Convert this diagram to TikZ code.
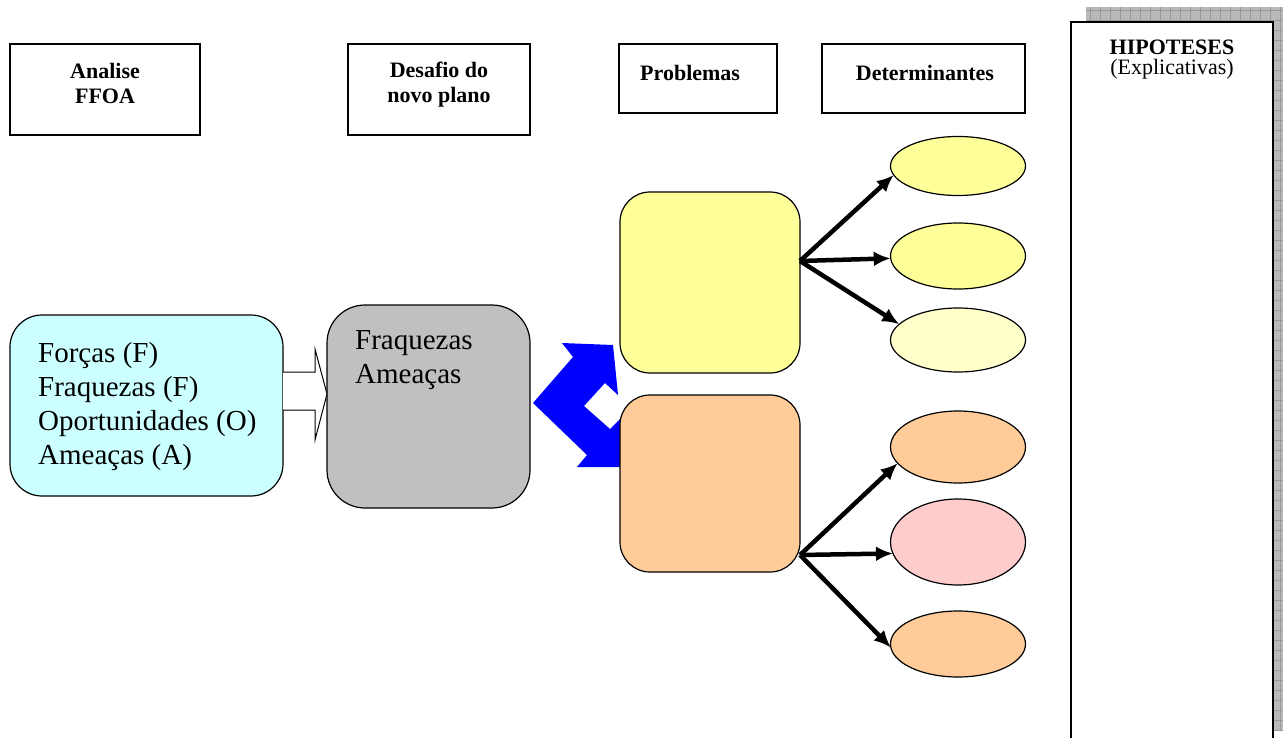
\documentclass[tikz,border=0pt]{standalone}
\usepackage{fontspec}
\setmainfont{Liberation Serif}
\usepackage{xcolor}
\usetikzlibrary{calc}
\usetikzlibrary{positioning}
\usetikzlibrary{shapes.geometric}
\usetikzlibrary{arrows,arrows.meta}
\definecolor{ffoacyan}{HTML}{CCFFFF}
\definecolor{desafiogray}{HTML}{C0C0C0}
\definecolor{probyellow}{HTML}{FFFF99}
\definecolor{probpeach}{HTML}{FFCC99}
\definecolor{detpale}{HTML}{FFFFCC}
\definecolor{detpink}{HTML}{FFCCCC}
\tikzset{%
    head box/.style={inner sep=0pt,outer sep=0pt,shape=rectangle,draw,line width=1.5pt,anchor=north west},
    head text/.style={align=center,inner sep=0pt,font=\fontsize{22}{25}\selectfont\bfseries},
    round body/.style={inner sep=0pt,outer sep=0pt,shape=rectangle,rounded corners=32pt,draw,line width=1.2pt,anchor=north west},
    big text/.style={align=left,inner sep=0pt,font=\fontsize{29}{34}\selectfont},
    det/.style={ellipse,draw,line width=1.2pt,minimum width=135pt,inner sep=0pt,outer sep=0pt},
    fork/.style={-{Latex[length=17pt,width=15pt]},line width=4.5pt},
}
\begin{document}
\begin{tikzpicture}[x=1pt,y=1pt]
        \useasboundingbox (0,0) rectangle (1283,-738);
        % column headings
        \node [head box,minimum width=190,minimum height=91] (ffoahead) at (10,-44) {};
        \node [head text] (ffoatxt) at (105,-83) {Analise\\FFOA};
        \node [head box,minimum width=182,minimum height=91] (desafiohead) at (348,-44) {};
        \node [head text] (desafiotxt) at (439,-85) {Desafio do\\novo plano};
        \node [head box,minimum width=158,minimum height=69] (probhead) at (619,-44) {};
        \node [head text,anchor=west] (probtxt) at (640,-73) {Problemas};
        \node [head box,minimum width=203,minimum height=69] (dethead) at (822,-44) {};
        \node [head text] (dettxt) at (925,-73) {Determinantes};

        % hypotheses panel
        \fill[gray!55] (1086,-7) rectangle (1283,-730);
        \draw[gray!80,step=10] (1086,-7) grid (1283,-730);
        \draw[fill=white,line width=2pt] (1071,-738) -- (1071,-22) -- (1273,-22) -- (1273,-738);
        \node [head text] (hiptxt) at (1172,-47) {HIPOTESES};
        \node [head text,font=\fontsize{22}{25}\selectfont,below=4pt of hiptxt] (hipsub) {(Explicativas)};

        % analysis boxes
        \node [round body,fill=ffoacyan,minimum width=273,minimum height=181] (ffoa) at (10,-315) {};
        \node [big text,anchor=west] (ffoalist) at ([xshift=28pt,yshift=-1pt]ffoa.west) {Forças (F)\\Fraquezas (F)\\Oportunidades (O)\\Ameaças (A)};
        \node [round body,fill=desafiogray,minimum width=203,minimum height=203,rounded corners=38pt] (desafio) at (327,-305) {};
        \node [big text,anchor=north west] (desafiolist) at (355,-330) {Fraquezas\\Ameaças};
        \draw[fill=white,line width=1pt] (283,-372) -- (315,-372) -- (315,-349) -- (327,-394) -- (315,-440) -- (315,-410) -- (283,-410);

        % blue split arrow
        \fill[blue] (533,-403) -- (573,-357) -- (562,-343) -- (613,-345) -- (618,-395) -- (605,-383)
            -- (584,-406) -- (610,-429) -- (621,-418) -- (627,-467) -- (577,-467) -- (587,-455) -- cycle;

        % problems
        \node [round body,fill=probyellow,minimum width=180,minimum height=181,rounded corners=30pt] (yprob) at (620,-192) {};
        \node [round body,fill=probpeach,minimum width=180,minimum height=177,rounded corners=30pt] (pprob) at (620,-395) {};

        % determinants
        \node [det,fill=probyellow,minimum height=59] (e1) at (958,-166) {};
        \node [det,fill=probyellow,minimum height=66] (e2) at (958,-256) {};
        \node [det,fill=detpale,minimum height=64] (e3) at (958,-340) {};
        \node [det,fill=probpeach,minimum height=72] (e4) at (958,-447) {};
        \node [det,fill=detpink,minimum height=86] (e5) at (958,-542) {};
        \node [det,fill=probpeach,minimum height=66] (e6) at (958,-644) {};

        \coordinate (yfork) at (800,-261);
        \coordinate (pfork) at (800,-555);
        \draw[fork] (yfork) -- (e1.188);
        \draw[fork] (yfork) -- (e2.182);
        \draw[fork] (yfork) -- (e3.165);
        \draw[fork] (pfork) -- (e4.195);
        \draw[fork] (pfork) -- (e5.190);
        \draw[fork] (pfork) -- (e6.183);
    \end{tikzpicture}
\end{document}
